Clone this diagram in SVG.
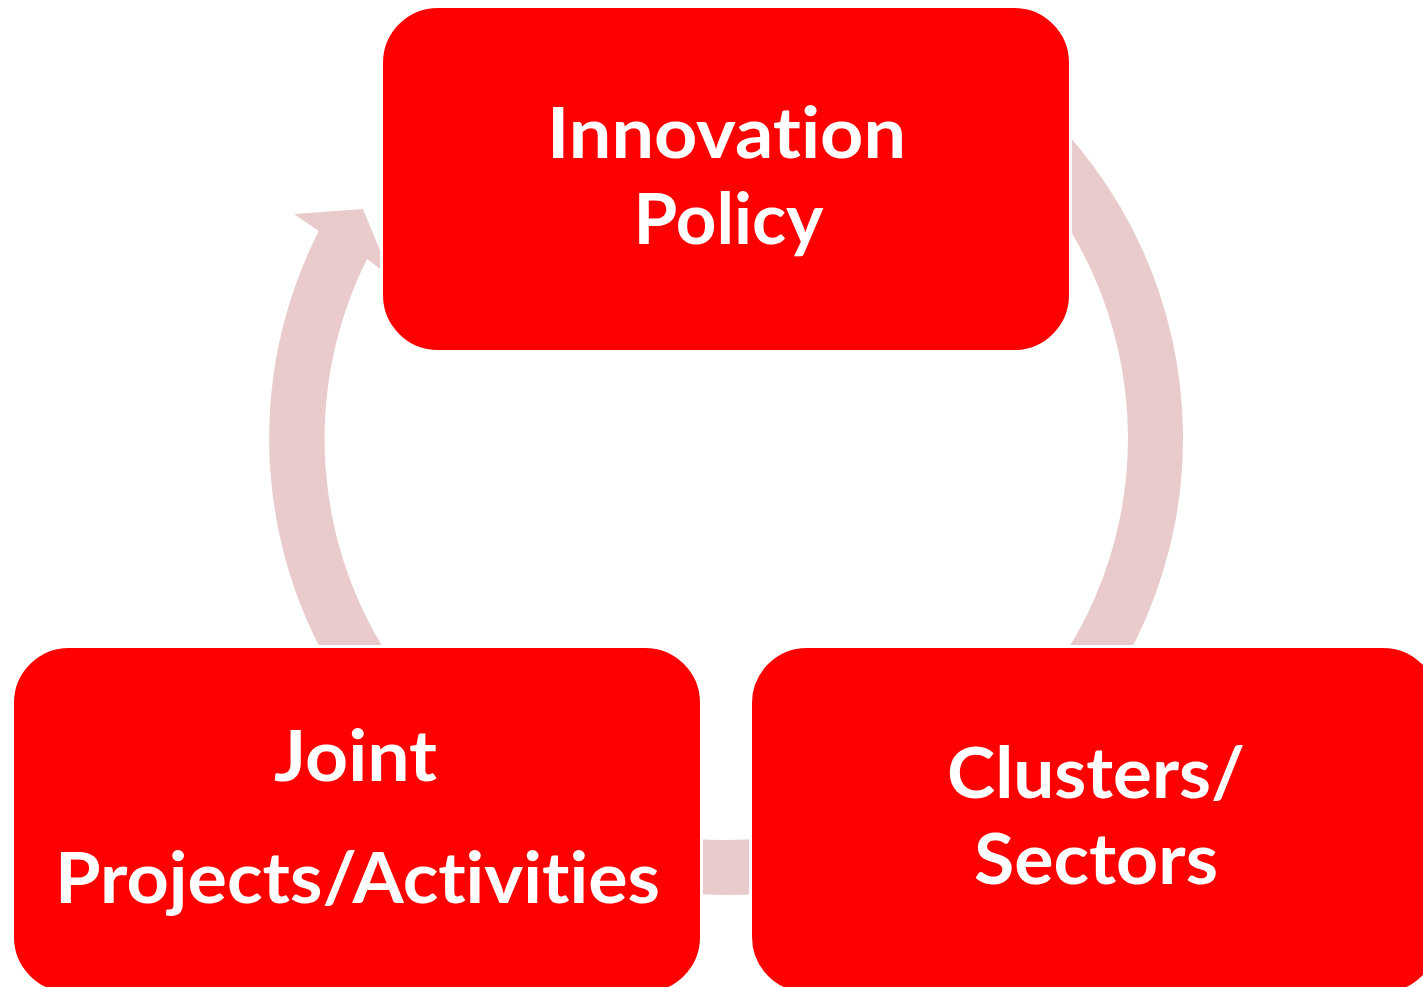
<svg xmlns="http://www.w3.org/2000/svg" width="1423" height="987" viewBox="0 0 1423 987">
<style>
.arc{fill:#E9CBCB;stroke:none}
.box{fill:#FF0000;stroke:#FFFFFF;stroke-width:3}
.lbl{font-family:Lato,"Open Sans","Liberation Sans",sans-serif;font-weight:bold;font-size:71px;fill:#FFFFFF;text-anchor:middle;font-variant-ligatures:none;font-feature-settings:"liga" 0,"clig" 0,"dlig" 0}
</style>
<rect x="0" y="0" width="1423" height="987" fill="#FFFFFF"/>
<g id="connectors">
<path class="arc" d="M351.65,700.13 A457,457 0 0 1 318.8,231 L294,214 L363,209 L391,277 L367,259 A402,402 0 0 0 396.7,668.58 Z"/>
<path class="arc" d="M954.5,42.2 A457,457 0 0 1 1100.35,700.13 L1055.3,668.58 A402,402 0 0 0 927,89.9 Z"/>
<path class="arc" d="M805.36,888.06 A457,457 0 0 1 646.64,888.06 L656.19,833.89 A402,402 0 0 0 795.81,833.89 Z"/>
</g>
<g id="node-innovation">
<rect class="box" x="381.5" y="6.5" width="689" height="345" rx="56.5"/>
<text class="lbl" x="726.5" y="158" textLength="359" lengthAdjust="spacingAndGlyphs">Innovation</text>
<text class="lbl" x="728.5" y="244" textLength="190" lengthAdjust="spacingAndGlyphs">Policy</text>
</g>
<g id="node-joint">
<rect class="box" x="12.5" y="646.5" width="689" height="347" rx="56.5"/>
<text class="lbl" x="355.5" y="781" textLength="163" lengthAdjust="spacingAndGlyphs">Joint</text>
<text class="lbl" x="357.5" y="903" textLength="605" lengthAdjust="spacingAndGlyphs">Projects/Activities</text>
</g>
<g id="node-clusters">
<rect class="box" x="750.5" y="646.5" width="689" height="347" rx="56.5"/>
<text class="lbl" x="1096" y="798" textLength="298" lengthAdjust="spacingAndGlyphs">Clusters/</text>
<text class="lbl" x="1096" y="884" textLength="244" lengthAdjust="spacingAndGlyphs">Sectors</text>
</g>
</svg>
